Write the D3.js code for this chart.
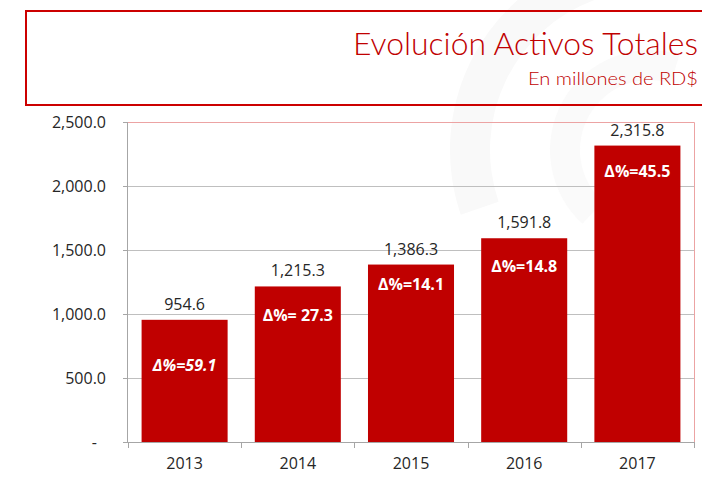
<!DOCTYPE html>
<meta charset="utf-8">
<title>Evolución Activos Totales</title>
<style>
body {
    margin: 0;
    background: #fff;
  }
svg text {
    font-family: "Open Sans", "Noto Sans", sans-serif;
}
.title {
    font-family: "Lato", "DejaVu Sans", sans-serif;
    font-weight: 300;
    fill: #c00000;
}
.axis path, .axis line {
    stroke: #a6a6a6;
    shape-rendering: crispEdges;
}
.grid line {
    stroke: #bfbfbf;
    shape-rendering: crispEdges;
}
</style>
<body>
<script src="https://d3js.org/d3.v7.min.js"></script>
<script>

// chart data
var years = ["2013", "2014", "2015", "2016", "2017"];
var activos = [954.6, 1215.3, 1386.3, 1591.8, 2315.8];
var deltas = ["Δ%=59.1", "Δ%= 27.3", "Δ%=14.1", "Δ%=14.8", "Δ%=45.5"];
var yTicks = [0, 500, 1000, 1500, 2000, 2500];

var width = 702,
    height = 477;

// plot area (note: "top" is taken by window.top)
var plotL = 128, plotR = 694, plotT = 122, plotB = 442;

// how far below the bar top each Δ label sits (px)
var deltaDy = [51, 35, 25, 34, 31];

var svg = d3.select("body").append("svg")
    .attr("width", width)
    .attr("height", height);

// faint logo in the background
var wm = svg.append("g").attr("transform", "translate(650,150)");
wm.append("path")
    .attr("d", d3.arc()({innerRadius: 160, outerRadius: 200, startAngle: -1.9, endAngle: 1.2}))
    .attr("fill", "#f9f9f9");
wm.append("path")
    .attr("d", d3.arc()({innerRadius: 70, outerRadius: 100, startAngle: -2.4, endAngle: 0.3}))
    .attr("fill", "#fafafa");

// title box
svg.append("rect")
    .attr("x", 26)
    .attr("y", 11)
    .attr("width", 700)
    .attr("height", 94)
    .attr("fill", "none")
    .attr("stroke", "#cc0000")
    .attr("stroke-width", 2);

svg.append("text")
    .attr("class", "title")
    .attr("x", 698)
    .attr("y", 55)
    .attr("text-anchor", "end")
    .attr("font-size", 31)
    .attr("textLength", 345)
    .attr("lengthAdjust", "spacingAndGlyphs")
    .text("Evolución Activos Totales");

svg.append("text")
    .attr("class", "title")
    .attr("x", 698)
    .attr("y", 85)
    .attr("text-anchor", "end")
    .attr("font-size", 17)
    .attr("textLength", 170)
    .attr("lengthAdjust", "spacingAndGlyphs")
    .text("En millones de RD$");

var x = d3.scaleBand()
    .domain(years)
    .range([plotL, plotR])
    .paddingInner(0.24)
    .paddingOuter(0.12);

var y = d3.scaleLinear()
    .domain([0, 2500])
    .range([plotB, plotT]);

// gridlines
svg.append("g")
    .attr("class", "grid")
  .selectAll("line")
    .data(yTicks.filter(function(d) { return d > 0 && d < 2500; }))
  .enter().append("line")
    .attr("x1", plotL)
    .attr("x2", plotR)
    .attr("y1", function(d) { return y(d); })
    .attr("y2", function(d) { return y(d); });

// plot area border (top and right)
svg.append("path")
    .attr("d", "M" + plotL + "," + (plotT + 0.5) + "H" + (plotR + 0.5) + "V" + plotB)
    .attr("fill", "none")
    .attr("stroke", "#eca3a3")
    .attr("stroke-width", 1);

// bars
svg.selectAll(".bar")
    .data(activos)
  .enter().append("rect")
    .attr("class", "bar")
    .attr("x", function(d, i) { return x(years[i]); })
    .attr("width", x.bandwidth())
    .attr("y", function(d) { return y(d); })
    .attr("height", function(d) { return y(0) - y(d); })
    .attr("fill", "#c00000");

// value labels
svg.selectAll(".val")
    .data(activos)
  .enter().append("text")
    .attr("class", "val")
    .attr("x", function(d, i) { return x(years[i]) + x.bandwidth() / 2; })
    .attr("y", function(d) { return y(d) - 10; })
    .attr("text-anchor", "middle")
    .attr("font-size", 16)
    .attr("fill", "#262626")
    .text(d3.format(",.1f"));

// growth labels
svg.selectAll(".delta")
    .data(deltas)
  .enter().append("text")
    .attr("class", "delta")
    .attr("x", function(d, i) { return x(years[i]) + x.bandwidth() / 2; })
    .attr("y", function(d, i) { return y(activos[i]) + deltaDy[i]; })
    .attr("text-anchor", "middle")
    .attr("font-size", 16)
    .attr("font-weight", "bold")
    .attr("font-style", function(d, i) { return i === 0 ? "italic" : "normal"; })
    .attr("fill", "#fff")
    .text(function(d) { return d; });

// y axis
var yAxis = svg.append("g")
    .attr("class", "axis")
    .attr("transform", "translate(" + plotL + ",0)")
    .call(d3.axisLeft(y)
        .tickValues(yTicks)
        .tickSize(5)
        .tickPadding(17)
        .tickFormat(function(d) { return d === 0 ? "-" : d3.format(",.1f")(d); }));
yAxis.select(".domain").attr("d", "M-0.5," + plotT + "V" + plotB);
yAxis.selectAll("text")
    .attr("font-size", 16)
    .attr("font-family", null)
    .attr("fill", "#262626")
    .filter(function(d) { return d === 0; })
    .attr("dx", -9);

// x axis
var xAxis = svg.append("g")
    .attr("class", "axis")
    .attr("transform", "translate(0," + plotB + ")")
    .call(d3.axisBottom(x).tickSize(0).tickPadding(16));
xAxis.select(".domain").attr("d", "M" + plotL + ",0.5H" + (plotR + 0.5));
xAxis.selectAll("text")
    .attr("font-size", 16)
    .attr("font-family", null)
    .attr("fill", "#262626");

// category separator ticks
svg.append("g")
    .attr("class", "axis")
  .selectAll("line")
    .data(years.concat(["end"]))
  .enter().append("line")
    .attr("x1", function(d, i) { return Math.round(plotL + i * x.step()) + 0.5; })
    .attr("x2", function(d, i) { return Math.round(plotL + i * x.step()) + 0.5; })
    .attr("y1", plotB)
    .attr("y2", plotB + 6);

</script>
